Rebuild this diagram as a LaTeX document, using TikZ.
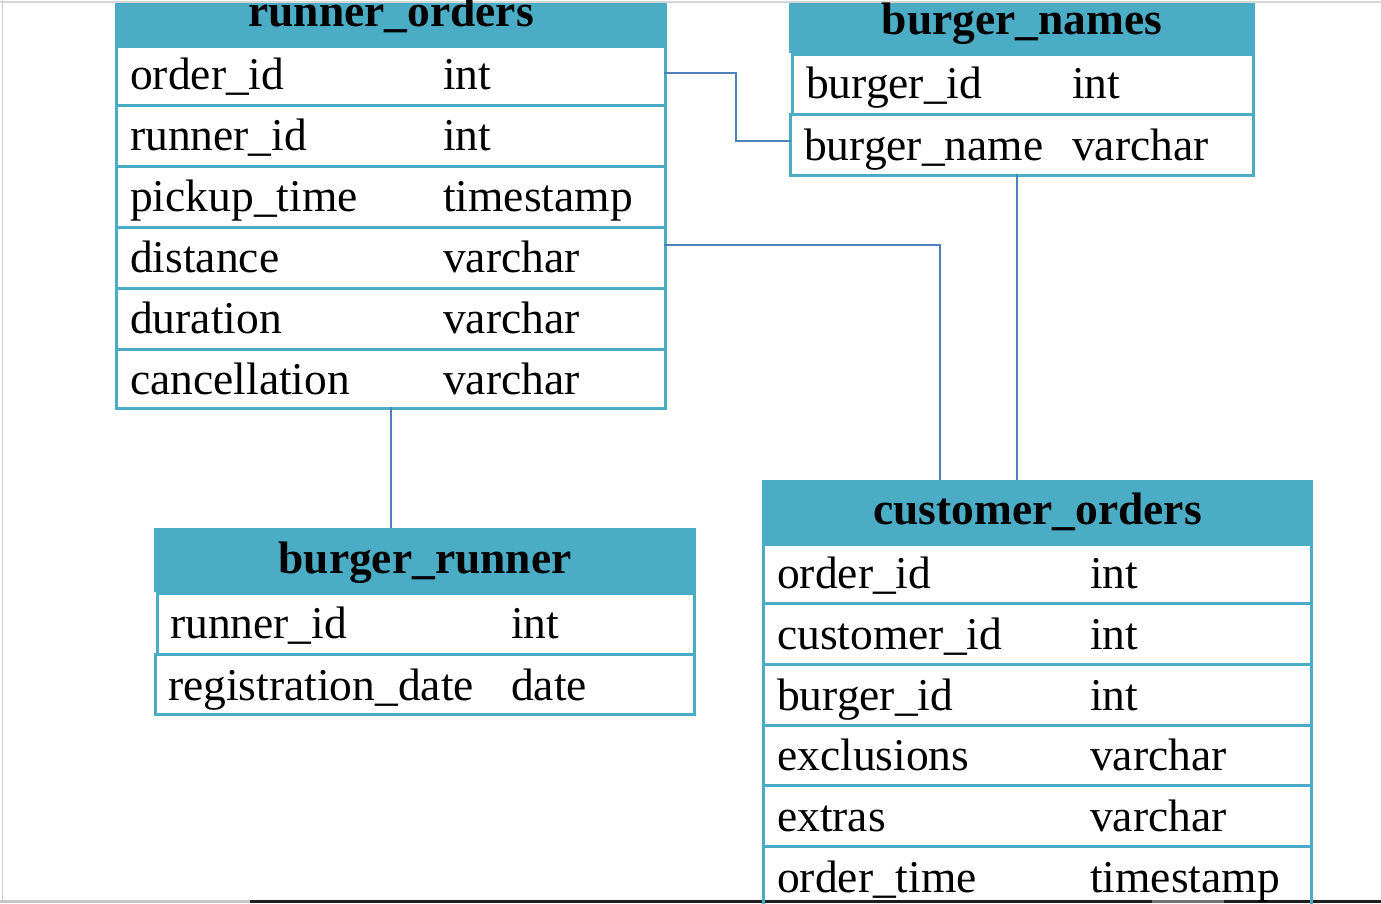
\documentclass[tikz,border=0pt]{standalone}
\usepackage{fontspec}
\setmainfont{Liberation Serif}
\definecolor{hdr}{RGB}{75,172,198}
\definecolor{connc}{RGB}{79,129,189}
\begin{document}
\begin{tikzpicture}[x=1pt,y=-1pt,
  hdrbox/.style={rectangle, fill=hdr, draw=none, inner sep=0pt, outer sep=0pt, anchor=north west},
  rowbox/.style={rectangle, draw=hdr, line width=3pt, inner sep=0pt, outer sep=0pt, anchor=north west},
  hdrtext/.style={anchor=base, inner sep=0pt, font=\fontsize{45.5}{50}\selectfont\bfseries},
  celltext/.style={anchor=base west, inner sep=0pt, font=\fontsize{45.5}{50}\selectfont},
  connline/.style={draw=connc, line width=2pt}]
\useasboundingbox (0,0) rectangle (1381,903);
\clip (0,0) rectangle (1381,903);
\fill[white] (0,0) rectangle (1381,903);
% screen frame
\fill[black!16] (0,0.8) rectangle (1381,2.8);
\fill[black!20] (1.5,0) rectangle (2.5,903);
\fill[black!22] (0,899.5) rectangle (250,903);
\fill[black!88] (250,899.5) rectangle (1381,903);
\fill[black!55] (1152,899.5) rectangle (1224,903);

% ---------- runner_orders ----------
\node[hdrbox, minimum width=552pt, minimum height=42pt] (roh) at (115,3) {};
\node[rowbox, minimum width=549pt, minimum height=58.5pt] (ro1) at (116.5,46.5) {};
\node[rowbox, minimum width=549pt, minimum height=61pt] (ro2) at (116.5,105) {};
\node[rowbox, minimum width=549pt, minimum height=61pt] (ro3) at (116.5,166) {};
\node[rowbox, minimum width=549pt, minimum height=61pt] (ro4) at (116.5,227) {};
\node[rowbox, minimum width=549pt, minimum height=61pt] (ro5) at (116.5,288) {};
\node[rowbox, minimum width=549pt, minimum height=59.5pt] (ro6) at (116.5,349) {};
\node[hdrtext] (rot) at (391,26) {runner\_orders};
\node[celltext] (ro1a) at (130,89.5) {order\_id};
\node[celltext] (ro1b) at (443,89.5) {int};
\node[celltext] (ro2a) at (130,150.5) {runner\_id};
\node[celltext] (ro2b) at (443,150.5) {int};
\node[celltext] (ro3a) at (130,211.5) {pickup\_time};
\node[celltext] (ro3b) at (443,211.5) {timestamp};
\node[celltext] (ro4a) at (130,272.5) {distance};
\node[celltext] (ro4b) at (443,272.5) {varchar};
\node[celltext] (ro5a) at (130,333.5) {duration};
\node[celltext] (ro5b) at (443,333.5) {varchar};
\node[celltext] (ro6a) at (130,394) {cancellation};
\node[celltext] (ro6b) at (443,394) {varchar};

% ---------- burger_names ----------
\node[hdrbox, minimum width=466pt, minimum height=50pt] (bnh) at (789,3) {};
\node[rowbox, minimum width=461pt, minimum height=59.5pt] (bn1) at (792.5,54.5) {};
\node[rowbox, minimum width=463pt, minimum height=61.5pt] (bn2) at (790.5,114) {};
\node[hdrtext] (bnt) at (1022,34) {burger\_names};
\node[celltext] (bn1a) at (806,98) {burger\_id};
\node[celltext] (bn1b) at (1072,98) {int};
\node[celltext] (bn2a) at (804,160) {burger\_name};
\node[celltext] (bn2b) at (1072,160) {varchar};

% ---------- burger_runner ----------
\node[hdrbox, minimum width=542pt, minimum height=64pt] (brh) at (154,528) {};
\node[rowbox, minimum width=537.5pt, minimum height=60.5pt] (br1) at (157,593.5) {};
\node[rowbox, minimum width=539pt, minimum height=60.5pt] (br2) at (155.5,654) {};
\node[hdrtext] (brt) at (425,573) {burger\_runner};
\node[celltext] (br1a) at (170,638) {runner\_id};
\node[celltext] (br1b) at (511,638) {int};
\node[celltext] (br2a) at (168,700) {registration\_date};
\node[celltext] (br2b) at (511,700) {date};

% ---------- customer_orders ----------
\node[hdrbox, minimum width=551pt, minimum height=63pt] (coh) at (762,480) {};
\node[rowbox, minimum width=548pt, minimum height=58.5pt] (co1) at (763.5,544.5) {};
\node[rowbox, minimum width=548pt, minimum height=61pt] (co2) at (763.5,603) {};
\node[rowbox, minimum width=548pt, minimum height=61pt] (co3) at (763.5,664) {};
\node[rowbox, minimum width=548pt, minimum height=60.5pt] (co4) at (763.5,725) {};
\node[rowbox, minimum width=548pt, minimum height=61pt] (co5) at (763.5,785.5) {};
\node[rowbox, minimum width=548pt, minimum height=61.5pt] (co6) at (763.5,846.5) {};
\node[hdrtext] (cot) at (1037.5,524) {customer\_orders};
\node[celltext] (co1a) at (777,588) {order\_id};
\node[celltext] (co1b) at (1090,588) {int};
\node[celltext] (co2a) at (777,649) {customer\_id};
\node[celltext] (co2b) at (1090,649) {int};
\node[celltext] (co3a) at (777,710) {burger\_id};
\node[celltext] (co3b) at (1090,710) {int};
\node[celltext] (co4a) at (777,770) {exclusions};
\node[celltext] (co4b) at (1090,770) {varchar};
\node[celltext] (co5a) at (777,831) {extras};
\node[celltext] (co5b) at (1090,831) {varchar};
\node[celltext] (co6a) at (777,892) {order\_time};
\node[celltext] (co6b) at (1090,892) {timestamp};

% ---------- connectors ----------
\draw[connline] ([xshift=-2pt,yshift=3pt]ro1.east) -- ++(72,0) |- ([yshift=4pt]bn2.west);
\draw[connline] ([xshift=-2pt,yshift=12.5pt]ro4.east) -| ([xshift=-97.5pt]coh.north);
\draw[connline] ([xshift=-5pt,yshift=2pt]bn2.south) -- ([xshift=-5pt]bn2.south |- coh.north);
\draw[connline] ([yshift=2pt]ro6.south) -- (ro6.south |- brh.north);
\end{tikzpicture}
\end{document}
